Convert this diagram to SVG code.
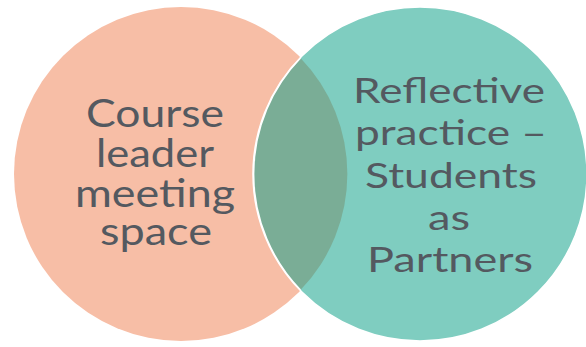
<svg xmlns="http://www.w3.org/2000/svg" width="586" height="347" viewBox="0 0 586 347">
<style>
.t{font-family:Lato,"Open Sans",sans-serif;fill:#545960;text-anchor:middle}
.l{font-size:39px}
.r{font-size:35.5px}
</style>
<rect width="586" height="347" fill="#ffffff"/>
<g id="left-circle">
<circle cx="181" cy="174" r="167" fill="#F7BEA6"/>
</g>
<g id="right-circle">
<circle cx="420" cy="174" r="167" fill="#7FCDC0" stroke="#ffffff" stroke-width="1.5"/>
</g>
<g id="overlap">
<path d="M300.5 58 A167 167 0 0 1 300.5 290 A167 167 0 0 1 300.5 58 Z" fill="#7AAD96"/>
<path d="M300.5 290 A167 167 0 0 1 300.5 58" fill="none" stroke="#ffffff" stroke-width="1.5"/>
</g>
<g id="left-label">
<text class="t l" x="155" y="127" textLength="138" lengthAdjust="spacingAndGlyphs">Course</text>
<text class="t l" x="155" y="167" textLength="118" lengthAdjust="spacingAndGlyphs">leader</text>
<text class="t l" x="155" y="207" textLength="160" lengthAdjust="spacingAndGlyphs">meeting</text>
<text class="t l" x="156" y="245" textLength="112" lengthAdjust="spacingAndGlyphs">space</text>
</g>
<g id="right-label">
<text class="t r" x="449" y="103" textLength="192" lengthAdjust="spacingAndGlyphs">Reflective</text>
<text class="t r" x="451" y="145" textLength="192" lengthAdjust="spacingAndGlyphs">practice –</text>
<text class="t r" x="451" y="188" textLength="172" lengthAdjust="spacingAndGlyphs">Students</text>
<text class="t r" x="449" y="230" textLength="42" lengthAdjust="spacingAndGlyphs">as</text>
<text class="t r" x="450" y="272" textLength="166" lengthAdjust="spacingAndGlyphs">Partners</text>
</g>
<g id="connectors"></g>
</svg>
